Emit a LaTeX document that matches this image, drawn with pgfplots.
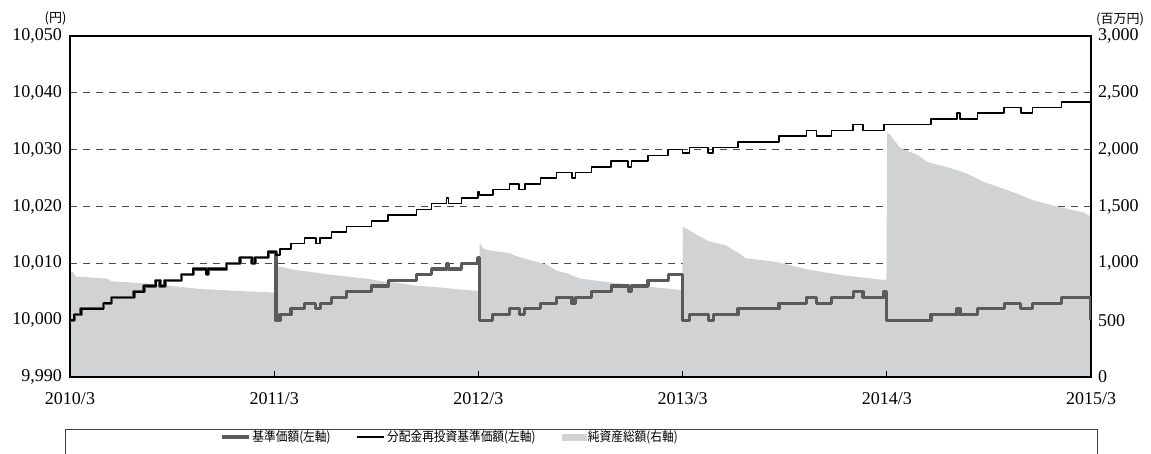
\documentclass[border=0pt]{standalone}
\usepackage{fontspec}
\setmainfont{Liberation Serif}
\newfontfamily\cjk{Noto Sans CJK JP}
\newfontfamily\cjkleg[FakeStretch=0.9]{Noto Sans CJK JP}
\usepackage{pgfplots}
\pgfplotsset{compat=1.18}
\definecolor{basegray}{HTML}{5A5A5A}
\definecolor{areagray}{HTML}{D1D2D4}
\definecolor{gridgray}{HTML}{4A4A4A}
\begin{document}
\begin{tikzpicture}[x=1pt,y=1pt]
\pgfplotsset{
  myaxis/.style={
    at={(70pt,77pt)}, anchor=south west,
    scale only axis, width=1021pt, height=341pt,
    xmin=0, xmax=60,
    axis background/.style={fill=none},
    /pgf/number format/.cd, 1000 sep={,}, assume math mode=true,
    /pgfplots/.cd,
    scaled y ticks=false,
    tick label style={font=\fontsize{18}{18}\selectfont},
  }
}
% right axis: net assets (area) + grid
\begin{axis}[myaxis,
  ymin=0, ymax=3000, ytick={0,500,...,3000},
  yticklabel pos=right,
  xtick=\empty,
  ymajorgrids, grid style={gridgray, dash pattern=on 7pt off 6pt, line width=0.9pt},
  tick style={draw=none},
  yticklabel style={inner sep=0pt, anchor=west, xshift=7pt},
  axis line style={draw=none},
]
\addplot[fill=areagray, draw=none] coordinates {
(0,930) (0.2,925) (0.32,885) (2.2,865) (2.4,842) (4.6,822) (6.0,800) (7.6,775) (9.5,760) (12.08,742)
(12.1,977) (12.7,958) (13.3,941) (14.7,912) (15.3,900) (17.6,862) (18.2,845) (19.6,822) (20.2,805) (21.55,790) (23.1,768) (24.05,755)
(24.07,1176) (24.3,1130) (24.5,1117) (25.8,1090) (26.3,1060) (27.0,1030) (28.0,990) (28.6,935) (29.2,912) (30.0,865) (32.1,825) (34.9,780) (35.98,765)
(36.02,1322) (36.5,1280) (37.5,1195) (38.5,1160) (39.3,1090) (39.7,1045) (41.4,1015) (43.4,945) (45.3,897) (47.9,853) (47.98,850)
(48.02,2145) (48.15,2140) (48.4,2090) (48.7,2030) (49.0,2000) (49.8,1955) (50.4,1890) (51.7,1840) (52.7,1790) (53.7,1715) (54.6,1670) (55.6,1615) (56.6,1555) (58.0,1500) (59.6,1445) (60.0,1410)
} \closedcycle;
\end{axis}
% left axis: NAV lines
\begin{axis}[myaxis,
  ymin=9990, ymax=10050, ytick={9990,10000,...,10050},
  yticklabel pos=left,
  ytick style={draw=none},
  xtick={0,12,24,36,48,60},
  xticklabels={2010/3,2011/3,2012/3,2013/3,2014/3,2015/3},
  xtick pos=bottom, tick align=inside, major tick length=6pt,
  xtick style={black, line width=0.8pt},
  yticklabel style={inner sep=0pt, anchor=east, xshift=-8pt},
  xticklabel style={inner sep=0pt, anchor=north, yshift=-15pt},
  axis line style={black, line width=1.2pt},
  legend columns=3,
  legend style={at={(0.147,-0.176)}, anchor=west, draw=none, fill=none,
    font=\cjkleg\fontsize{13}{13}\selectfont, inner sep=0pt,
    /tikz/every even column/.append style={column sep=24pt},
    nodes={inner sep=2pt}},
]
\addplot[const plot mark left, basegray, line width=3.2pt, line join=round,
  legend image code/.code={\draw[basegray, line width=3.2pt] (0pt,0pt) -- (27pt,0pt);}] coordinates {
(0,10000) (0.25,10001) (0.65,10002) (1.96,10003) (2.45,10004) (3.76,10005) (4.35,10006) (5.04,10007) (5.29,10006) (5.58,10007) (6.56,10008) (7.24,10009) (8.0,10008) (8.12,10009) (9.2,10010) (9.99,10011) (10.7,10010) (10.87,10011) (11.65,10012)
(12.1,10000) (12.34,10001) (12.99,10002) (13.78,10003) (14.45,10002) (14.7,10003) (15.37,10004) (16.25,10005) (17.72,10006) (18.7,10007) (20.37,10008) (21.25,10009) (22.13,10010) (22.25,10009) (23.0,10010) (23.98,10011)
(24.07,10000) (24.85,10001) (25.83,10002) (26.4,10001) (26.73,10002) (27.65,10003) (28.6,10004) (29.5,10003) (29.7,10004) (30.65,10005) (31.8,10006) (32.8,10005) (33.0,10006) (33.97,10007) (35.15,10008)
(36.0,10000) (36.4,10001) (37.5,10000) (37.8,10001) (39.26,10002) (41.67,10003) (43.28,10004) (43.87,10003) (44.75,10004) (46.02,10005) (46.6,10004) (47.84,10005)
(48.0,10000) (50.6,10001) (52.13,10002) (52.3,10001) (53.33,10002) (54.9,10003) (55.88,10002) (56.56,10003) (58.26,10004) (59.9,10004) (60,10000)
};
\addlegendentry{基準価額(左軸)}
\addplot[const plot mark left, black, line width=1.6pt, line join=round,
  legend image code/.code={\draw[black, line width=1.6pt] (0pt,0pt) -- (27pt,0pt);}] coordinates {
(0,10000) (0.25,10001) (0.65,10002) (1.96,10003) (2.45,10004) (3.76,10005) (4.35,10006) (5.04,10007) (5.29,10006) (5.58,10007) (6.56,10008) (7.24,10009) (8.0,10008) (8.12,10009) (9.2,10010) (9.99,10011) (10.7,10010) (10.87,10011) (11.65,10012)
(12.1,10011.5) (12.34,10012.5) (12.99,10013.5) (13.78,10014.5) (14.45,10013.5) (14.7,10014.5) (15.37,10015.5) (16.25,10016.5) (17.72,10017.5) (18.7,10018.5) (20.37,10019.5) (21.25,10020.5) (22.13,10021.5) (22.25,10020.5) (23.0,10021.5) (23.98,10022.5)
(24.07,10022) (24.85,10023) (25.83,10024) (26.4,10023) (26.73,10024) (27.65,10025) (28.6,10026) (29.5,10025) (29.7,10026) (30.65,10027) (31.8,10028) (32.8,10027) (33.0,10028) (33.97,10029) (35.15,10030)
(36.0,10029.4) (36.4,10030.4) (37.5,10029.4) (37.8,10030.4) (39.26,10031.4) (41.67,10032.4) (43.28,10033.4) (43.87,10032.4) (44.75,10033.4) (46.02,10034.4) (46.6,10033.4) (47.84,10034.4)
(48.0,10034.4) (50.6,10035.4) (52.13,10036.4) (52.3,10035.4) (53.33,10036.4) (54.9,10037.4) (55.88,10036.4) (56.56,10037.4) (58.26,10038.4) (60,10038.4)
};
\addlegendentry{分配金再投資基準価額(左軸)}
\addlegendimage{legend image code/.code={\fill[areagray] (0pt,-3pt) rectangle (24pt,3pt);}}
\addlegendentry{純資産総額(右軸)}
\end{axis}
\node[font=\cjk\fontsize{13}{13}\selectfont, inner sep=0pt] at (55.5,435.5) {(円)};
\node[font=\cjk\fontsize{13}{13}\selectfont, inner sep=0pt] at (1120,434.5) {(百万円)};
\draw[line width=1pt, color=black!75] (65,24) rectangle (1097,-6);
\pgfresetboundingbox
\useasboundingbox (0,0) rectangle (1151,454);
\end{tikzpicture}
\end{document}
